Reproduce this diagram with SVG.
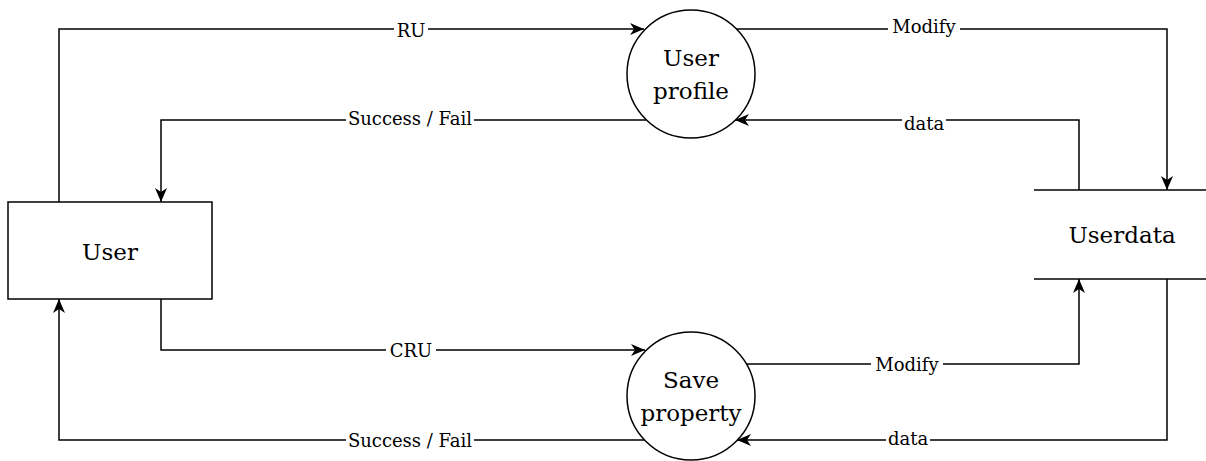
<svg xmlns="http://www.w3.org/2000/svg" width="1206" height="461" viewBox="0 0 1206 461">
<defs>
<marker id="arr" markerUnits="userSpaceOnUse" markerWidth="16" markerHeight="14" refX="14" refY="7" orient="auto">
<path d="M0,1 L14,7 L0,13 L4,7 z" fill="#000"/>
</marker>
</defs>
<rect width="1206" height="461" fill="#fff"/>
<g id="connectors" fill="none" stroke="#000" stroke-width="1.5">
<path d="M59,202 V29 H644" marker-end="url(#arr)"/>
<path d="M646,120 H161 V202" marker-end="url(#arr)"/>
<path d="M736,29 H1167 V190" marker-end="url(#arr)"/>
<path d="M1079,190 V120 H735" marker-end="url(#arr)"/>
<path d="M161,299 V350 H645" marker-end="url(#arr)"/>
<path d="M644,440 H59 V299" marker-end="url(#arr)"/>
<path d="M745,364 H1079 V279" marker-end="url(#arr)"/>
<path d="M1167,279 V440 H737" marker-end="url(#arr)"/>
</g>
<g id="edge-labels">
<g fill="#fff" stroke="none">
<rect x="394" y="19" width="34" height="20"/>
<rect x="346" y="110" width="128" height="20"/>
<rect x="888" y="19" width="72" height="20"/>
<rect x="902" y="111" width="44" height="22"/>
<rect x="386" y="340" width="50" height="20"/>
<rect x="346" y="431" width="128" height="20"/>
<rect x="871" y="354" width="72" height="20"/>
<rect x="886" y="430" width="44" height="20"/>
</g>
<g font-family="DejaVu Serif, serif" font-size="18" fill="#000" text-anchor="middle">
<text x="411" y="37">RU</text>
<text x="410" y="125">Success / Fail</text>
<text x="924" y="33">Modify</text>
<text x="924" y="130">data</text>
<text x="411" y="357">CRU</text>
<text x="410" y="447">Success / Fail</text>
<text x="907" y="371">Modify</text>
<text x="908" y="445">data</text>
</g>
</g>
<g id="user">
<rect x="8" y="202" width="204" height="97" fill="#fff" stroke="#000" stroke-width="1.5"/>
<text x="110" y="260" font-family="DejaVu Serif, serif" font-size="23" text-anchor="middle" fill="#000">User</text>
</g>
<g id="user-profile">
<circle cx="691" cy="74" r="64" fill="#fff" stroke="#000" stroke-width="1.5"/>
<text font-family="DejaVu Serif, serif" font-size="23" text-anchor="middle" fill="#000"><tspan x="691" y="66">User</tspan><tspan x="691" y="99">profile</tspan></text>
</g>
<g id="save-property">
<circle cx="691" cy="396" r="64" fill="#fff" stroke="#000" stroke-width="1.5"/>
<text font-family="DejaVu Serif, serif" font-size="23" text-anchor="middle" fill="#000"><tspan x="691" y="388">Save</tspan><tspan x="691" y="421">property</tspan></text>
</g>
<g id="userdata">
<line x1="1034" y1="190" x2="1206" y2="190" stroke="#000" stroke-width="1.5"/>
<line x1="1034" y1="279" x2="1206" y2="279" stroke="#000" stroke-width="1.5"/>
<text x="1122" y="243" font-family="DejaVu Serif, serif" font-size="23" text-anchor="middle" fill="#000">Userdata</text>
</g>
</svg>
